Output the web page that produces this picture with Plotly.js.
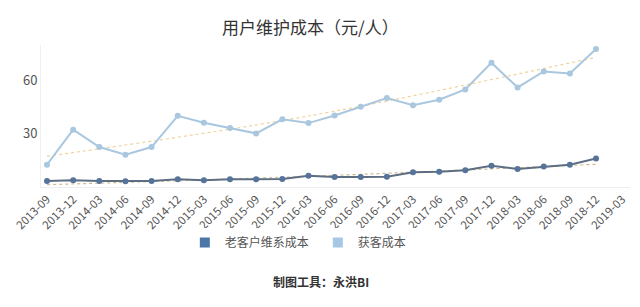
<!DOCTYPE html>
<html>
<head>
<meta charset="utf-8">
<script src="https://cdn.plot.ly/plotly-3.0.1.min.js"></script>
<style>
html,body{margin:0;padding:0;background:#fff;}
#chart{width:640px;height:307px;}
</style>
</head>
<body>
<div id="chart"></div>
<script>
const categories = ['2013-09','2013-12','2014-03','2014-06','2014-09','2014-12','2015-03','2015-06','2015-09','2015-12','2016-03','2016-06','2016-09','2016-12','2017-03','2017-06','2017-09','2017-12','2018-03','2018-06','2018-09','2018-12','2019-03'];
const dataCategories = categories.slice(0, 22);
const retentionCost = [3.4,3.8,3.4,3.2,3.4,4.3,3.8,4.3,4.3,4.5,6.4,5.6,5.6,5.8,8.3,8.6,9.4,12.0,10.1,11.5,12.6,16.1];
const acquisitionCost = [12.6,32.3,22.5,18.2,22.5,40.1,36.2,33.2,30.2,38.1,36.0,40.3,45.2,50.1,46.1,49.2,55.0,70.0,56.1,65.1,64.0,77.8];
const trendCategories = ['2013-09','2016-03','2018-12'];
const retentionTrend = [1.3,6.0,12.8];
const acquisitionTrend = [17.3,40.0,73.1];
const seriesNames = ['老客户维系成本','获客成本'];
const yTicks = [30,60];

const font = '"Noto Sans CJK SC", "Noto Sans", sans-serif';
const darkLine = '#5d6e82', darkMarker = '#56739a', darkLegend = '#4a77a8';
const lightColor = '#a9c7df', lightLegend = '#a7c8e4';

const traces = [
  {x: categories, y: categories.map(() => null), mode: 'lines', showlegend: false, hoverinfo: 'skip'},
  {x: trendCategories, y: acquisitionTrend, mode: 'lines', line: {color: '#f0d39c', width: 1.2, dash: 'dot', shape: 'spline'}, showlegend: false},
  {x: trendCategories, y: retentionTrend, mode: 'lines', line: {color: '#cdbb95', width: 1.2, dash: 'dot', shape: 'spline'}, showlegend: false},
  {x: dataCategories, y: acquisitionCost, mode: 'lines+markers', name: seriesNames[1], line: {color: lightColor, width: 2}, marker: {color: lightColor, size: 6}, showlegend: false},
  {x: dataCategories, y: retentionCost, mode: 'lines+markers', name: seriesNames[0], line: {color: darkLine, width: 2}, marker: {color: darkMarker, size: 6}, showlegend: false},
  {x: [null], y: [null], mode: 'markers', name: seriesNames[0], marker: {symbol: 'square', size: 10, color: darkLegend}},
  {x: [null], y: [null], mode: 'markers', name: seriesNames[1], marker: {symbol: 'square', size: 10, color: lightLegend}}
];

const layout = {
  width: 640, height: 307,
  margin: {l: 40.7, r: 10, t: 44.5, b: 120.3},
  paper_bgcolor: '#fff', plot_bgcolor: '#fff',
  font: {family: font, color: '#555'},
  title: {text: '用户维护成本（元/人）', x: 0.485, xanchor: 'center', y: 0.91, yanchor: 'middle', font: {family: font, size: 17, color: '#333'}},
  xaxis: {
    type: 'category', categoryorder: 'array', categoryarray: categories,
    range: [-0.23, 22.3], tickangle: -45, showgrid: false, zeroline: false,
    showline: true, linecolor: '#eeeeee', linewidth: 1, ticks: '',
    tickfont: {family: font, size: 11.5, color: '#555'}
  },
  yaxis: {
    range: [0, 80], tickvals: yTicks, showgrid: false, zeroline: false,
    showline: true, linecolor: '#f0f0f0', linewidth: 1, ticks: '',
    tickfont: {family: font, size: 13, color: '#555'}
  },
  showlegend: true,
  legend: {orientation: 'h', x: 0.47, xanchor: 'center', y: -0.39, yanchor: 'middle', font: {family: font, size: 12, color: '#555'}, itemwidth: 30, entrywidth: 88, entrywidthmode: 'pixels', tracegroupgap: 0},
  annotations: [{text: '<b>制图工具：永洪BI</b>', xref: 'paper', yref: 'paper', x: 0.475, y: -0.663, xanchor: 'center', yanchor: 'middle', showarrow: false, font: {family: font, size: 12, color: '#333'}}]
};

Plotly.newPlot('chart', traces, layout, {displayModeBar: false, staticPlot: true});
</script>
</body>
</html>
